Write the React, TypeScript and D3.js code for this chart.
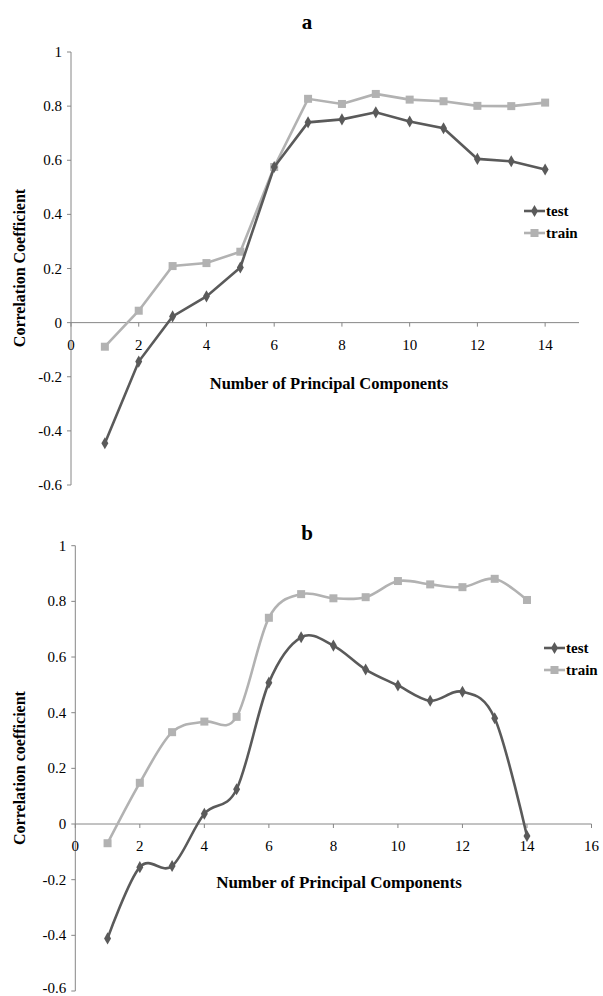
import * as d3 from "d3";

// number of principal components on x
const components = [1, 2, 3, 4, 5, 6, 7, 8, 9, 10, 11, 12, 13, 14];

// panel a
const testA = [-0.446, -0.144, 0.023, 0.097, 0.204, 0.575, 0.74, 0.751, 0.777, 0.743, 0.718, 0.605, 0.596, 0.566];
const trainA = [-0.089, 0.044, 0.209, 0.22, 0.262, 0.575, 0.827, 0.808, 0.845, 0.824, 0.818, 0.801, 0.8, 0.813];

// panel b
const testB = [-0.411, -0.155, -0.151, 0.037, 0.125, 0.508, 0.671, 0.641, 0.555, 0.498, 0.443, 0.475, 0.38, -0.043];
const trainB = [-0.069, 0.148, 0.33, 0.368, 0.385, 0.741, 0.826, 0.811, 0.815, 0.873, 0.861, 0.851, 0.881, 0.805];

const yTicks = [-0.6, -0.4, -0.2, 0, 0.2, 0.4, 0.6, 0.8, 1];
const xTicksA = [0, 2, 4, 6, 8, 10, 12, 14];
const xTicksB = [0, 2, 4, 6, 8, 10, 12, 14, 16];

const TEST_COLOR = "#5a5a5a";
const TRAIN_COLOR = "#b2b2b2";
const AXIS_COLOR = "#868686";
const FONT = "Liberation Serif, DejaVu Serif, serif";

function fmt(v: number) {
  if (v === 0) return "0";
  return String(Math.round(v * 10) / 10);
}

function Panel({ top, title, titleY, yTitle, test, train, xTicks, xMax, x0, x1, y0, y1, smooth, legendX, legendY, xTitleY, xTitleX, xTitleSize }: any) {
  const x = d3.scaleLinear().domain([0, xMax]).range([x0, x1]);
  const y = d3.scaleLinear().domain([-0.6, 1]).range([y1, y0]);
  const line = d3.line<number>()
    .x((_, i) => x(components[i]))
    .y((d) => y(d))
    .curve(smooth ? d3.curveCardinal.tension(0) : d3.curveLinear);

  const diamond = d3.symbol().type(d3.symbolDiamond).size(42)()!;
  // keep the bottom tick label inside the page
  const labelY = (t: number) => Math.min(y(t) + 5, 993 - top);

  return (
    <g transform={`translate(0, ${top})`}>
      <text x={307} y={titleY} textAnchor="middle" fontWeight="bold" fontSize={21}>{title}</text>

      {/* y axis */}
      <line x1={x(0)} x2={x(0)} y1={y(1)} y2={y(-0.6)} stroke={AXIS_COLOR} />
      {yTicks.map((t) => (
        <g key={t}>
          <line x1={x(0) - 4} x2={x(0)} y1={y(t)} y2={y(t)} stroke={AXIS_COLOR} />
          <text x={x(0) - 9} y={labelY(t)} textAnchor="end" fontSize={15}>{fmt(t)}</text>
        </g>
      ))}

      {/* x axis at zero */}
      <line x1={x(0)} x2={x(xMax)} y1={y(0)} y2={y(0)} stroke={AXIS_COLOR} />
      {xTicks.map((t: number) => (
        <g key={t}>
          <line x1={x(t)} x2={x(t)} y1={y(0)} y2={y(0) + 4} stroke={AXIS_COLOR} />
          <text x={x(t)} y={y(0) + 27} textAnchor="middle" fontSize={15}>{t}</text>
        </g>
      ))}

      <text transform={`translate(25, ${yTitle.cy}) rotate(-90)`} textAnchor="middle" fontWeight="bold" fontSize={16}>{yTitle.text}</text>
      <text x={xTitleX} y={xTitleY} textAnchor="middle" fontWeight="bold" fontSize={xTitleSize}>Number of Principal Components</text>

      <path d={line(train)!} fill="none" stroke={TRAIN_COLOR} strokeWidth={2.6} />
      {train.map((v: number, i: number) => (
        <rect key={i} x={x(components[i]) - 4} y={y(v) - 4} width={8} height={8} fill={TRAIN_COLOR} />
      ))}
      <path d={line(test)!} fill="none" stroke={TEST_COLOR} strokeWidth={2.6} />
      {test.map((v: number, i: number) => (
        <path key={i} d={diamond} transform={`translate(${x(components[i])}, ${y(v)})`} fill={TEST_COLOR} />
      ))}

      {/* legend */}
      <line x1={legendX} x2={legendX + 21} y1={legendY} y2={legendY} stroke={TEST_COLOR} strokeWidth={2.6} />
      <path d={diamond} transform={`translate(${legendX + 10.5}, ${legendY})`} fill={TEST_COLOR} />
      <text x={legendX + 22} y={legendY + 5} fontWeight="bold" fontSize={15}>test</text>
      <line x1={legendX} x2={legendX + 21} y1={legendY + 22} y2={legendY + 22} stroke={TRAIN_COLOR} strokeWidth={2.6} />
      <rect x={legendX + 6.5} y={legendY + 18} width={8} height={8} fill={TRAIN_COLOR} />
      <text x={legendX + 22} y={legendY + 27} fontWeight="bold" fontSize={15}>train</text>
    </g>
  );
}

export default function App() {
  return (
    <svg width={603} height={996} style={{ position: "absolute", left: 0, top: 0, background: "#fff", fontFamily: FONT }}>
      <rect width={603} height={996} fill="#fff" />
      <Panel
        top={0}
        title="a"
        titleY={29}
        yTitle={{ text: "Correlation Coefficient", cy: 268 }}
        test={testA}
        train={trainA}
        xTicks={xTicksA}
        xMax={15}
        x0={71}
        x1={579}
        y0={52}
        y1={485}
        smooth={false}
        legendX={524}
        legendY={211}
        xTitleX={329}
        xTitleY={389}
        xTitleSize={16.5}
      />
      <Panel
        top={500}
        title="b"
        titleY={40}
        yTitle={{ text: "Correlation coefficient", cy: 268 }}
        test={testB}
        train={trainB}
        xTicks={xTicksB}
        xMax={16}
        x0={75.3}
        x1={591.5}
        y0={45.7}
        y1={491}
        smooth={true}
        legendX={544}
        legendY={148}
        xTitleX={339}
        xTitleY={388}
        xTitleSize={17}
      />
    </svg>
  );
}
